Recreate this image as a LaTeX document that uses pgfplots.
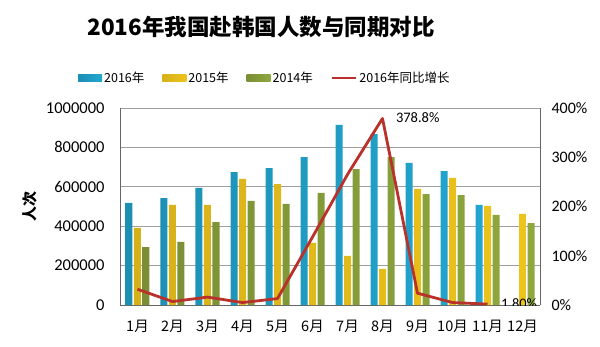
\documentclass[border=0pt]{standalone}
\usepackage{pgfplots}
\pgfplotsset{compat=1.18}
\usepackage{fontspec}
\setmainfont{Carlito}
\newfontfamily\cjk{Noto Sans CJK SC}
\definecolor{cBlue}{HTML}{22A8D2}
\definecolor{cYel}{HTML}{EDC41C}
\definecolor{cGrn}{HTML}{8FA83E}
\definecolor{cRed}{HTML}{B8312A}
\pgfplotsset{
  mybarlegend/.style={legend image code/.code={\path[##1] (0pt,-3.5pt) rectangle (24pt,3.5pt);}},
  mylinelegend/.style={legend image code/.code={\draw[##1] (0pt,0pt) -- (24pt,0pt);}},
}
\begin{document}
\begin{tikzpicture}
\useasboundingbox (-120pt,-41pt) rectangle (480pt,305pt);
\begin{axis}[
  scale only axis, width=420pt, height=197pt,
  at={(0pt,0pt)}, anchor=south west,
  ybar=1.5pt, bar width=7pt,
  xmin=-0.5, xmax=11.5, ymin=0, ymax=1000000,
  scaled y ticks=false,
  xtick={0,...,11},
  xticklabels={1月,2月,3月,4月,5月,6月,7月,8月,9月,10月,11月,12月},
  xticklabel style={font=\cjk\fontsize{14.5}{14.5}\selectfont, yshift=-12pt},
  ytick={0,200000,400000,600000,800000,1000000},
  yticklabels={0,200000,400000,600000,800000,1000000},
  yticklabel style={font=\fontsize{16.5}{16.5}\selectfont, xshift=-12pt},
  major tick length=0pt,
  ymajorgrids, grid style={gray!75, line width=0.9pt},
  axis x line*=bottom, axis y line*=left,
  axis line style={gray!80!black, line width=0.9pt},
  ylabel={\cjk\bfseries 人次},
  ylabel style={at={(axis description cs:-0.214,0.5)}, anchor=center, font=\fontsize{15}{15}\selectfont},
  title={\cjk\bfseries 2016年我国赴韩国人数与同期对比},
  title style={at={(axis description cs:0.336,1.381)}, anchor=center, font=\fontsize{22.5}{22.5}\selectfont},
  legend style={at={(axis description cs:0.345,1.152)}, anchor=center, draw=none, fill=none,
    legend columns=4, font=\cjk\fontsize{12.5}{12.5}\selectfont,
    /tikz/every even column/.append style={column sep=16pt}},
  mybarlegend,
]
\addplot[draw=none, left color=cBlue!85!black, middle color=cBlue!50!white, right color=cBlue]
  coordinates {(0,518000) (1,543000) (2,594000) (3,675000) (4,695000) (5,751000) (6,914000) (7,868000) (8,721000) (9,680000) (10,508000) (11,0)};
\addlegendentry{2016年}
\addplot[draw=none, left color=cYel!90!black, middle color=cYel!50!white, right color=cYel]
  coordinates {(0,391000) (1,508000) (2,508000) (3,640000) (4,614000) (5,315000) (6,249000) (7,183000) (8,589000) (9,645000) (10,503000) (11,462000)};
\addlegendentry{2015年}
\addplot[draw=none, left color=cGrn!85!black, middle color=cGrn!55!white, right color=cGrn]
  coordinates {(0,294000) (1,320000) (2,421000) (3,528000) (4,513000) (5,569000) (6,690000) (7,751000) (8,563000) (9,558000) (10,457000) (11,416000)};
\addlegendentry{2014年}
\addlegendimage{mylinelegend, cRed, line width=2.5pt}
\addlegendentry{2016年同比增长}
\end{axis}
\begin{axis}[
  scale only axis, width=420pt, height=197pt,
  at={(0pt,0pt)}, anchor=south west,
  xmin=-0.5, xmax=11.5, ymin=0, ymax=400,
  axis x line=none, axis y line*=right,
  axis line style={gray!80!black, line width=0.9pt},
  ytick={0,100,200,300,400},
  yticklabels={0\%,100\%,200\%,300\%,400\%},
  yticklabel style={font=\fontsize{16}{16}\selectfont, xshift=8pt},
  major tick length=0pt,
]
\addplot[cRed, line width=2.8pt, mark=none, line join=round]
  coordinates {(0,32) (1,7) (2,16) (3,5) (4,13) (5,138) (6,265) (7,378.8) (8,24) (9,5) (10,1.8)};
\node[anchor=west, font=\fontsize{14.5}{14.5}\selectfont] at (axis cs:7,378.8) [xshift=10pt, yshift=1pt] {378.8\%};
\node[anchor=west, font=\fontsize{14.5}{14.5}\selectfont] at (axis cs:10,1.8) [xshift=10pt, yshift=1pt] {1.80\%};
\end{axis}
\end{tikzpicture}
\end{document}
